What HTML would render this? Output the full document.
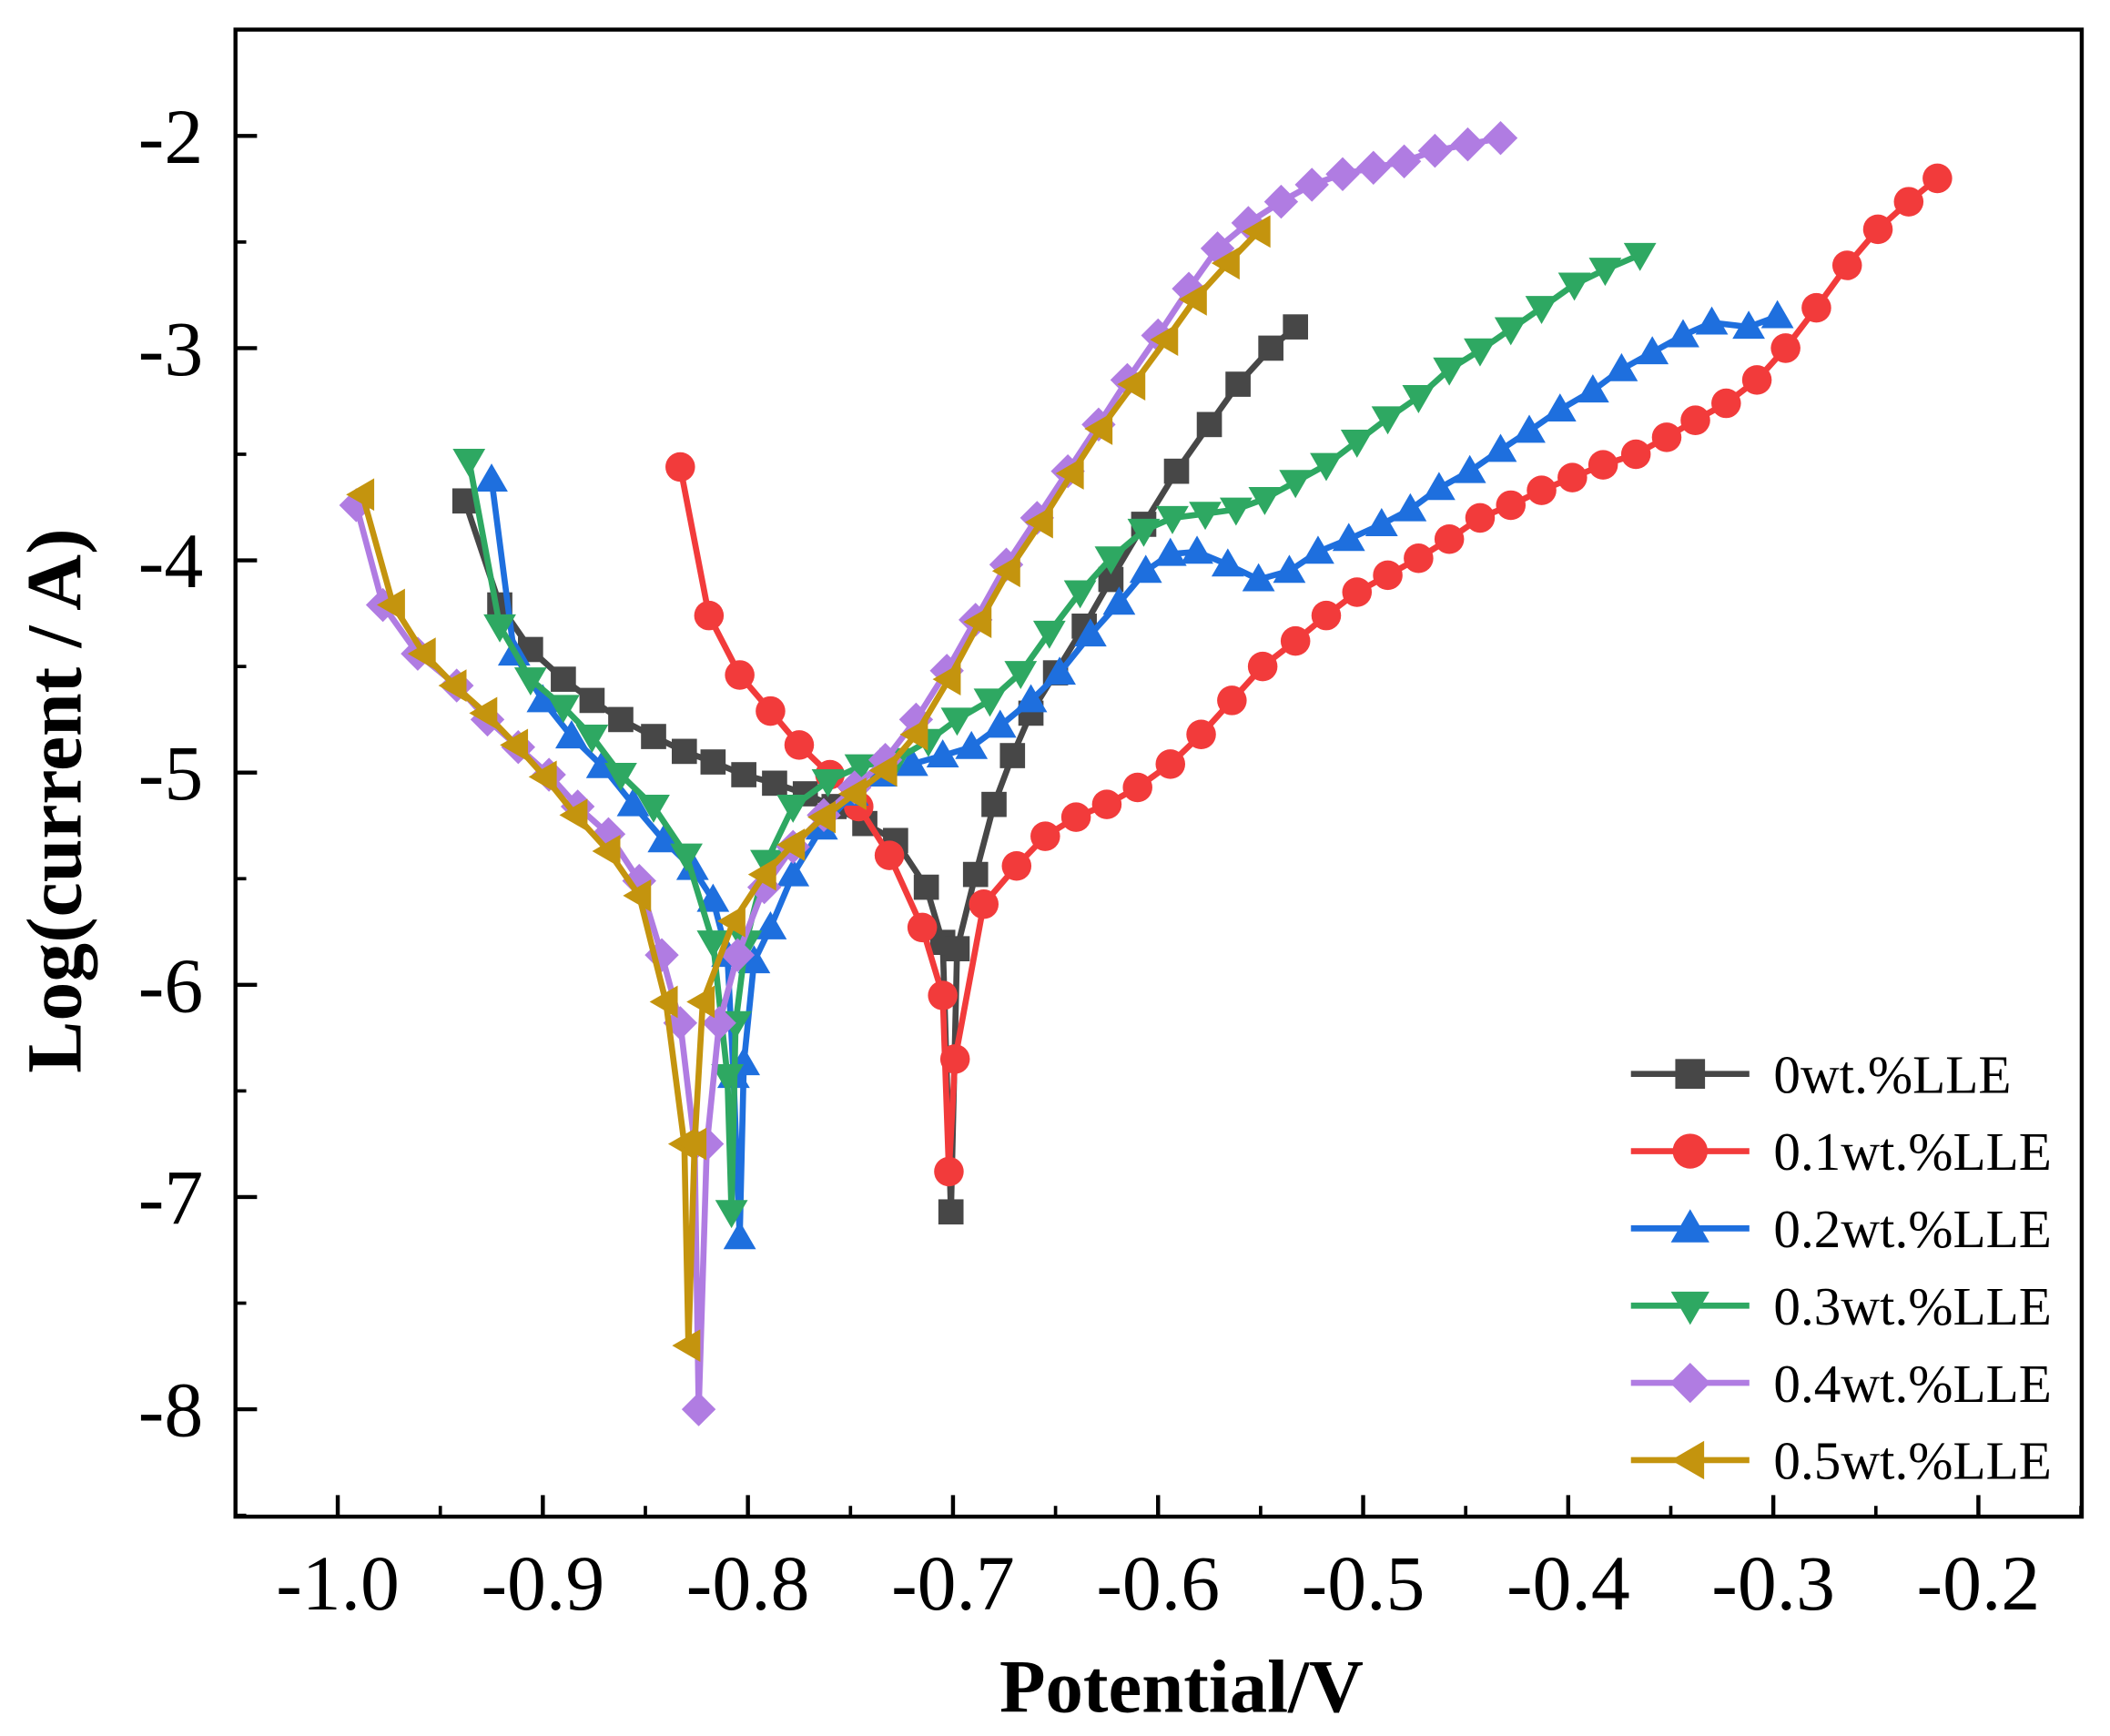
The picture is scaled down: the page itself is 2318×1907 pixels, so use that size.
<!DOCTYPE html>
<html><head><meta charset="utf-8"><style>
html,body{margin:0;padding:0;background:#fff}
svg{display:block}
text{font-family:"Liberation Serif",serif}
</style></head><body>
<svg id="chart" width="2318" height="1907" viewBox="0 0 1568 1290" preserveAspectRatio="none" xmlns="http://www.w3.org/2000/svg">
<rect x="175" y="22" width="1372" height="1105" fill="none" stroke="#000" stroke-width="3"/>
<g id="axes"></g>
<g id="series"></g>
<g id="legend"></g>
<text x="878" y="1272" text-anchor="middle" font-size="56" font-weight="bold">Potential/V</text>
<text transform="translate(60,595) rotate(-90)" text-anchor="middle" font-size="58" font-weight="bold">Log(current / A)</text>
</svg>
<script>
const xTicks=[-1.0,-0.9,-0.8,-0.7,-0.6,-0.5,-0.4,-0.3,-0.2];
const xTickLabels=["-1.0","-0.9","-0.8","-0.7","-0.6","-0.5","-0.4","-0.3","-0.2"];
const yTicks=[-2,-3,-4,-5,-6,-7,-8];
const yTickLabels=["-2","-3","-4","-5","-6","-7","-8"];
const seriesNames=["0wt.%LLE","0.1wt.%LLE","0.2wt.%LLE","0.3wt.%LLE","0.4wt.%LLE","0.5wt.%LLE"];
const s0x=[-0.938,-0.921,-0.906,-0.890,-0.876,-0.862,-0.846,-0.831,-0.817,-0.802,-0.787,-0.772,-0.758,-0.743,-0.728,-0.713,-0.705,-0.701,-0.698,-0.689,-0.680,-0.671,-0.662,-0.650,-0.636,-0.623,-0.607,-0.591,-0.575,-0.561,-0.545,-0.533];
const s0y=[-3.72,-4.21,-4.42,-4.56,-4.66,-4.75,-4.83,-4.90,-4.95,-5.01,-5.05,-5.10,-5.16,-5.24,-5.32,-5.54,-5.80,-7.07,-5.83,-5.48,-5.15,-4.92,-4.72,-4.53,-4.31,-4.09,-3.83,-3.58,-3.36,-3.17,-3.00,-2.90];
const s1x=[-0.833,-0.819,-0.804,-0.789,-0.775,-0.760,-0.746,-0.731,-0.715,-0.705,-0.702,-0.699,-0.685,-0.669,-0.655,-0.640,-0.625,-0.610,-0.594,-0.579,-0.564,-0.549,-0.533,-0.518,-0.503,-0.488,-0.473,-0.458,-0.443,-0.428,-0.413,-0.398,-0.383,-0.367,-0.352,-0.338,-0.323,-0.308,-0.294,-0.279,-0.264,-0.249,-0.234,-0.220];
const s1y=[-3.56,-4.26,-4.54,-4.71,-4.87,-5.01,-5.16,-5.39,-5.73,-6.05,-6.88,-6.35,-5.62,-5.44,-5.30,-5.21,-5.15,-5.07,-4.96,-4.82,-4.66,-4.50,-4.38,-4.26,-4.15,-4.07,-3.99,-3.90,-3.80,-3.74,-3.67,-3.61,-3.55,-3.50,-3.42,-3.34,-3.26,-3.15,-3.00,-2.81,-2.61,-2.44,-2.31,-2.20];
const s2x=[-0.925,-0.914,-0.900,-0.886,-0.871,-0.856,-0.841,-0.827,-0.817,-0.810,-0.807,-0.804,-0.802,-0.797,-0.789,-0.778,-0.764,-0.749,-0.735,-0.720,-0.705,-0.691,-0.677,-0.662,-0.648,-0.633,-0.619,-0.606,-0.594,-0.581,-0.566,-0.551,-0.536,-0.522,-0.507,-0.491,-0.477,-0.463,-0.448,-0.433,-0.419,-0.404,-0.388,-0.374,-0.359,-0.344,-0.330,-0.312,-0.298];
const s2y=[-3.62,-4.44,-4.66,-4.83,-4.97,-5.15,-5.32,-5.45,-5.60,-5.86,-6.43,-7.19,-6.37,-5.89,-5.73,-5.48,-5.26,-5.10,-5.01,-4.96,-4.92,-4.88,-4.78,-4.66,-4.53,-4.35,-4.20,-4.05,-3.97,-3.96,-4.02,-4.09,-4.05,-3.96,-3.90,-3.83,-3.76,-3.66,-3.58,-3.48,-3.39,-3.29,-3.20,-3.10,-3.02,-2.94,-2.88,-2.90,-2.85];
const s3x=[-0.936,-0.921,-0.906,-0.890,-0.876,-0.862,-0.846,-0.830,-0.817,-0.810,-0.808,-0.806,-0.801,-0.791,-0.778,-0.761,-0.745,-0.728,-0.712,-0.698,-0.682,-0.667,-0.653,-0.638,-0.623,-0.607,-0.593,-0.577,-0.562,-0.548,-0.533,-0.518,-0.503,-0.488,-0.473,-0.458,-0.443,-0.428,-0.413,-0.397,-0.382,-0.365];
const s3y=[-3.53,-4.31,-4.56,-4.69,-4.83,-5.01,-5.16,-5.39,-5.80,-6.43,-7.07,-6.18,-5.80,-5.42,-5.16,-5.04,-4.97,-4.94,-4.85,-4.75,-4.66,-4.53,-4.34,-4.15,-3.99,-3.86,-3.80,-3.78,-3.76,-3.71,-3.63,-3.55,-3.44,-3.33,-3.23,-3.10,-3.01,-2.91,-2.81,-2.70,-2.63,-2.56];
const s4x=[-0.991,-0.978,-0.961,-0.942,-0.927,-0.912,-0.897,-0.883,-0.868,-0.853,-0.842,-0.833,-0.826,-0.824,-0.820,-0.814,-0.805,-0.792,-0.778,-0.763,-0.748,-0.733,-0.718,-0.703,-0.689,-0.674,-0.659,-0.644,-0.629,-0.615,-0.600,-0.585,-0.571,-0.556,-0.540,-0.525,-0.510,-0.495,-0.480,-0.465,-0.449,-0.433];
const s4y=[-3.74,-4.21,-4.44,-4.59,-4.75,-4.88,-5.01,-5.16,-5.29,-5.51,-5.86,-6.18,-6.75,-8.00,-6.75,-6.18,-5.86,-5.54,-5.35,-5.20,-5.07,-4.94,-4.75,-4.52,-4.28,-4.02,-3.80,-3.58,-3.36,-3.15,-2.94,-2.72,-2.53,-2.41,-2.31,-2.23,-2.18,-2.15,-2.12,-2.07,-2.04,-2.01];
const s5x=[-0.988,-0.973,-0.958,-0.943,-0.928,-0.913,-0.899,-0.884,-0.868,-0.853,-0.840,-0.831,-0.829,-0.826,-0.822,-0.807,-0.792,-0.778,-0.763,-0.748,-0.733,-0.718,-0.702,-0.687,-0.673,-0.657,-0.642,-0.628,-0.612,-0.596,-0.582,-0.566,-0.551];
const s5y=[-3.69,-4.21,-4.44,-4.59,-4.72,-4.87,-5.02,-5.20,-5.37,-5.58,-6.08,-6.75,-7.70,-6.75,-6.08,-5.70,-5.48,-5.34,-5.21,-5.10,-4.99,-4.82,-4.56,-4.29,-4.05,-3.82,-3.59,-3.38,-3.17,-2.96,-2.77,-2.60,-2.45];

const NS="http://www.w3.org/2000/svg";
function X(v){return 251+(v+1)*1524;}
function Y(v){return 101+(-2-v)*157.7;}
function mk(tag,attrs,parent){const e=document.createElementNS(NS,tag);for(const k in attrs)e.setAttribute(k,attrs[k]);parent.appendChild(e);return e;}
const axes=document.getElementById('axes');
xTicks.forEach((t,i)=>{
  const l=mk('line',{x1:X(t),x2:X(t),y1:1127,y2:1111,stroke:'#000','stroke-width':3},axes);
  
  
  const m=mk('line',{x1:X(t+0.05),x2:X(t+0.05),y1:1127,y2:1119,stroke:'#000','stroke-width':2.5},axes);
  
  
  const tx=mk('text',{x:X(t),y:1196,'text-anchor':'middle','font-size':58},axes);
  tx.textContent=xTickLabels[i];
  
  
});
yTicks.forEach((t,i)=>{
  const l=mk('line',{x1:175,x2:191,y1:Y(t),y2:Y(t),stroke:'#000','stroke-width':3},axes);
  
  
  const m=mk('line',{x1:175,x2:183,y1:Y(t-0.5),y2:Y(t-0.5),stroke:'#000','stroke-width':2.5},axes);
  
  
  const tx=mk('text',{x:151,y:Y(t)+20,'text-anchor':'end','font-size':58},axes);
  tx.textContent=yTickLabels[i];
  
  
});
const colors=['#474747','#f23b3b','#1e6fde','#2ea862','#b07ce2','#c4940e'];
const shapes=['square','circle','up','down','diamond','left'];
const XS=[s0x,s1x,s2x,s3x,s4x,s5x], YS=[s0y,s1y,s2y,s3y,s4y,s5y];
function marker(shape,cx,cy,r,col,parent){
  let e;
  if(shape==='square')e=mk('rect',{x:cx-r*0.85,y:cy-r*0.85,width:r*1.7,height:r*1.7,fill:col},parent);
  else if(shape==='circle')e=mk('circle',{cx:cx,cy:cy,r:r,fill:col},parent);
  else{
    let p;
    if(shape==='up')p=[[0,-r*1.1],[r*1.1,r*0.8],[-r*1.1,r*0.8]];
    else if(shape==='down')p=[[0,r*1.1],[r*1.1,-r*0.8],[-r*1.1,-r*0.8]];
    else if(shape==='diamond')p=[[0,-r*1.15],[r*1.15,0],[0,r*1.15],[-r*1.15,0]];
    else p=[[-r*1.1,0],[r*0.8,-r*1.1],[r*0.8,r*1.1]];
    e=mk('polygon',{points:p.map(q=>(cx+q[0])+','+(cy+q[1])).join(' '),fill:col},parent);
  }
  return e;
}
const sg=document.getElementById('series');
XS.forEach((xs,si)=>{
  const g=mk('g',{},sg);
  
  
  const pts=xs.map((v,i)=>X(v)+','+Y(YS[si][i])).join(' ');
  const pl=mk('polyline',{points:pts,fill:'none',stroke:colors[si],'stroke-width':4.5,'stroke-linejoin':'round'},g);
  
  
  xs.forEach((v,i)=>{
    const m=marker(shapes[si],X(v),Y(YS[si][i]),11,colors[si],g);
    
    
  });
});
const lg=document.getElementById('legend');
seriesNames.forEach((n,i)=>{
  const y=798+i*57.4;
  const g=mk('g',{},lg);
  
  
  mk('line',{x1:1212,x2:1300,y1:y,y2:y,stroke:colors[i],'stroke-width':4.5},g);
  marker(shapes[i],1256,y,13,colors[i],g);
  const t=mk('text',{x:1318,y:y+14,'font-size':40},g);
  t.textContent=n;
});
</script>
</body></html>
